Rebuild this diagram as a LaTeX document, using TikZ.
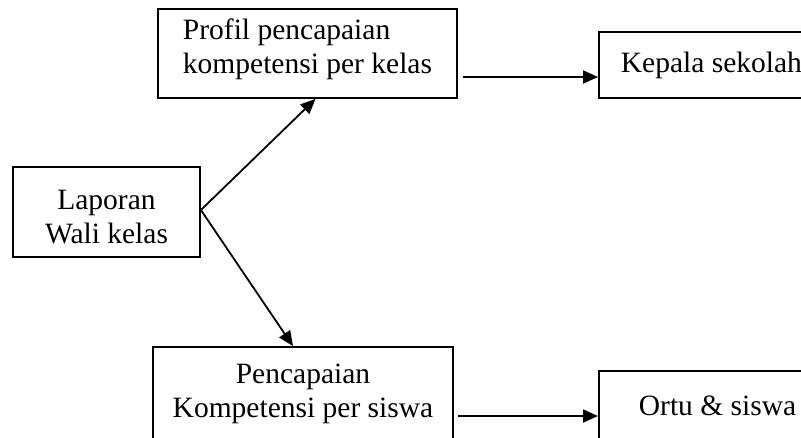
\documentclass[tikz,border=0pt]{standalone}
\usepackage{fontspec}
\setmainfont{Liberation Serif}
\usetikzlibrary{arrows.meta}

\begin{document}
\begin{tikzpicture}[x=1pt,y=-1pt,
        box/.style={draw, line width=1.8pt, inner ysep=0pt, font=\fontsize{29.5}{34}\selectfont},
        arr/.style={-{Triangle[length=15pt,width=13pt]}, line width=1.8pt}]
        \useasboundingbox (0,0) rectangle (801,437);
        \clip (0,0) rectangle (801,437);
        \node[box, align=center, minimum width=187pt, text height=76pt, text depth=14pt] (A) at (106.5,212) {Laporan\\Wali kelas};
        \node[box, align=left, minimum width=299pt, text height=64pt, text depth=25pt] (B) at (307.5,53.5) {Profil pencapaian\\kompetensi per kelas};
        \node[box, align=center, minimum width=300pt, text height=70pt, text depth=28pt] (C) at (303,396) {Pencapaian\\Kompetensi per siswa};
        \node[box, anchor=west, inner xsep=22pt, text height=40pt, text depth=26pt] (D) at (598,65) {Kepala sekolah};
        \node[box, anchor=north west, inner xsep=40pt, text height=45pt, text depth=60pt] (E) at (598,370) {Ortu \& siswa};
        \draw[arr] ([yshift=2pt]A.east) -- ([xshift=8pt]B.south);
        \draw[arr] ([yshift=2pt]A.east) -- ([xshift=-10pt]C.north);
        \coordinate (s1) at ([xshift=5pt,yshift=-23.5pt]B.east);
        \coordinate (s2) at ([xshift=4pt,yshift=-20pt]C.east);
        \draw[arr] (s1) -- (s1 -| D.west);
        \draw[arr] (s2) -- (s2 -| E.west);
    \end{tikzpicture}
\end{document}
